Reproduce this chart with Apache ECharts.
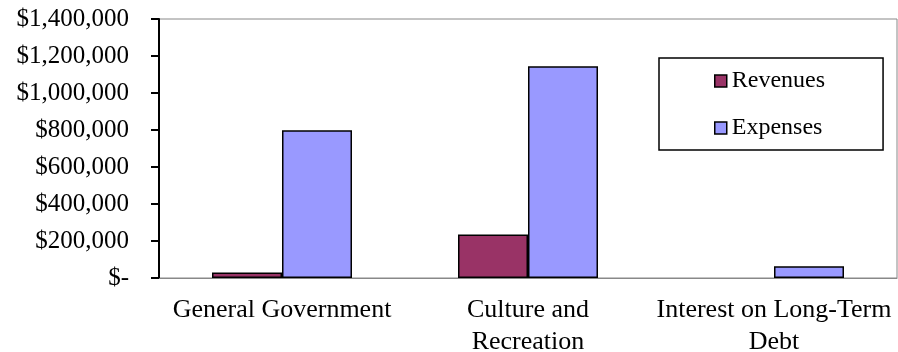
<!DOCTYPE html>
<html>
<head>
<meta charset="utf-8">
<style>
  html, body { margin: 0; padding: 0; background: #fff; }
  #chart { width: 898px; height: 352px; }
</style>
<script src="https://cdn.jsdelivr.net/npm/echarts@6/dist/echarts.min.js"></script>
</head>
<body>
<div id="chart"></div>
<script>
// Categories and values
const categories = ['General Government', 'Culture and\nRecreation', 'Interest on Long-Term\nDebt'];
const revenues = [30000, 235000, 0];
const expenses = [798000, 1144000, 63000];
const yTicks = { min: 0, max: 1400000, interval: 200000 };

const FONT = '"Liberation Serif", "Times New Roman", serif';

function money(v) {
  if (v === 0) return '$-';
  return '$' + v.toLocaleString('en-US');
}

// a zero amount leaves no bar at all
const asBars = arr => arr.map(v => (v === 0 ? '-' : v));

const chart = echarts.init(document.getElementById('chart'), null, { renderer: 'canvas' });
chart.setOption({
  animation: false,
  backgroundColor: '#fff',
  grid: {
    left: 159, right: 1, top: 19, bottom: 74,
    outerBoundsMode: 'none',
    containLabel: false,
    show: true, borderColor: '#888', borderWidth: 1, backgroundColor: 'transparent'
  },
  legend: {
    orient: 'vertical',
    left: 659, top: 58,
    padding: [11, 58, 10, 55],
    itemGap: 23,
    itemWidth: 12, itemHeight: 12,
    borderColor: '#000', borderWidth: 1.5, borderRadius: 0,
    icon: 'rect',
    itemStyle: { borderColor: '#000', borderWidth: 1.5 },
    textStyle: { fontFamily: FONT, fontSize: 24, color: '#000', lineHeight: 24 },
    data: ['Revenues', 'Expenses']
  },
  xAxis: {
    type: 'category',
    data: categories,
    axisLine: { show: true, lineStyle: { color: '#888', width: 1 } },
    axisTick: { show: false },
    axisLabel: { fontFamily: FONT, fontSize: 26, color: '#000', margin: 16, lineHeight: 32, interval: 0 }
  },
  yAxis: {
    type: 'value',
    min: yTicks.min, max: yTicks.max, interval: yTicks.interval,
    splitLine: { show: false },
    axisLine: { show: true, lineStyle: { color: '#000', width: 2 } },
    axisTick: { show: true, length: 8, lineStyle: { color: '#000', width: 2 } },
    axisLabel: { fontFamily: FONT, fontSize: 25, color: '#000', margin: 30, formatter: money }
  },
  series: [
    {
      name: 'Revenues', type: 'bar', data: asBars(revenues),
      barWidth: 70, barGap: '0%',
      itemStyle: { color: '#993366', borderColor: '#000', borderWidth: 1.5 }
    },
    {
      name: 'Expenses', type: 'bar', data: asBars(expenses),
      barWidth: 70, barGap: '0%',
      itemStyle: { color: '#9999FF', borderColor: '#000', borderWidth: 1.5 }
    }
  ]
});
</script>
</body>
</html>
